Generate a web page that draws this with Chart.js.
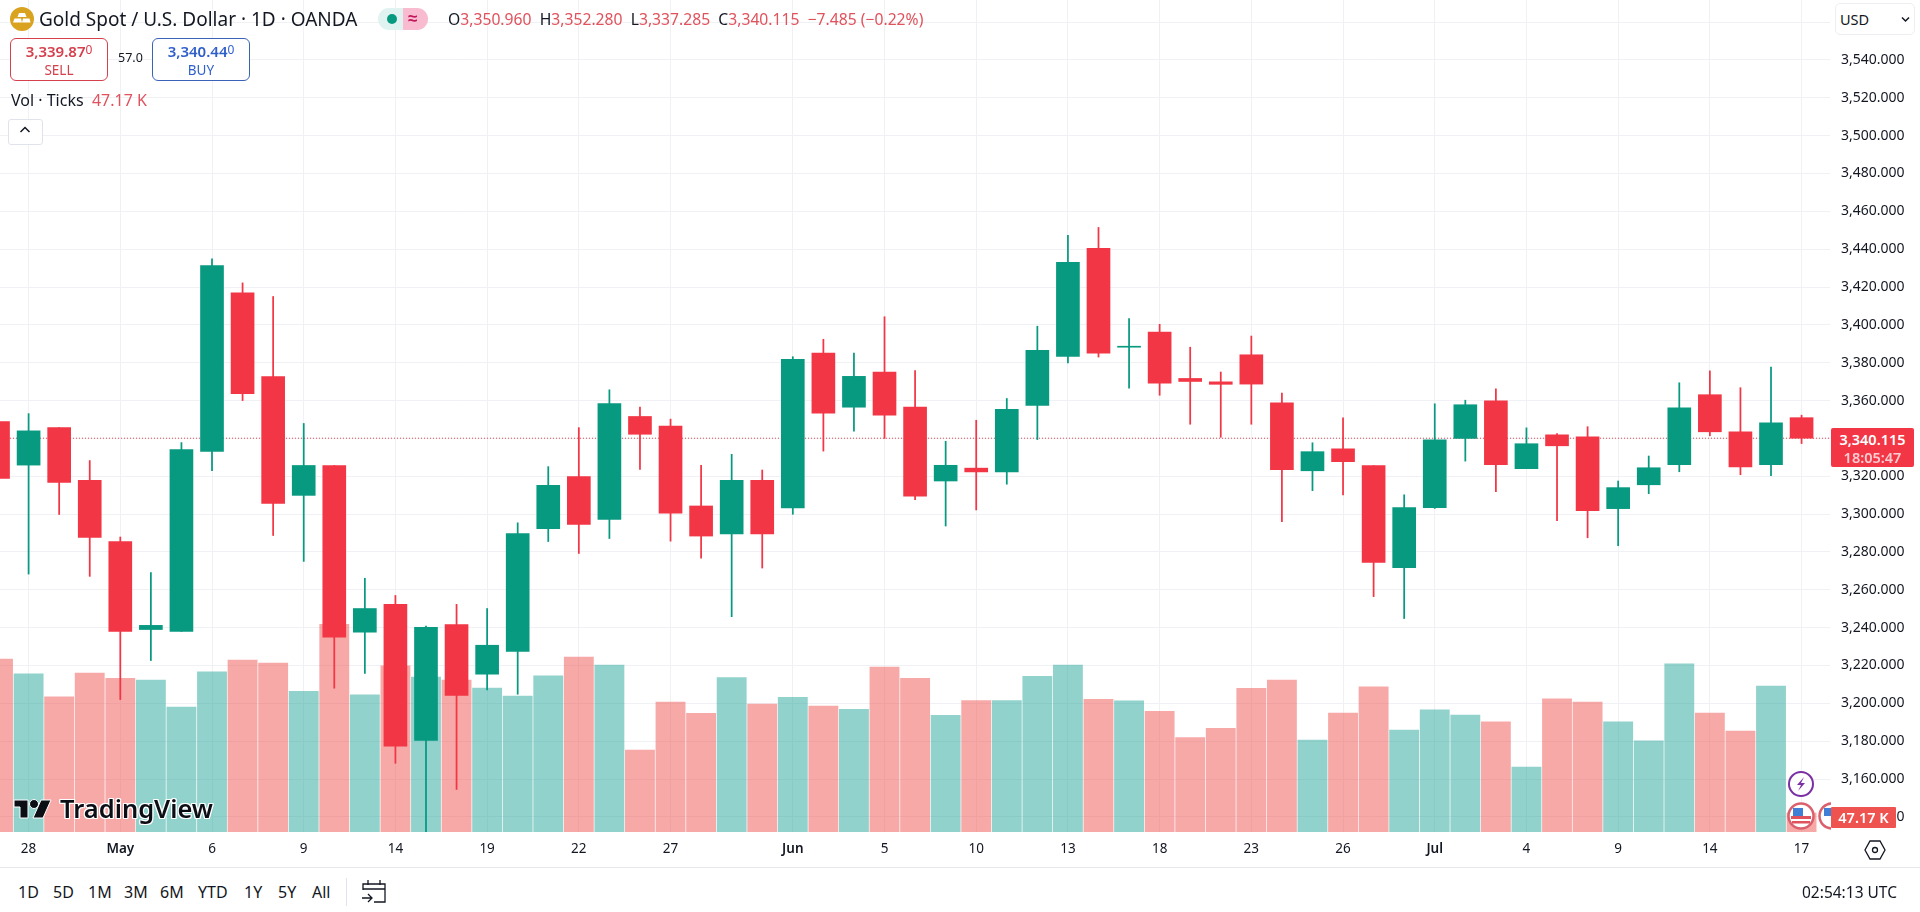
<!DOCTYPE html>
<html>
<head>
<meta charset="utf-8">
<title>Gold Spot / U.S. Dollar</title>
<script src="https://cdn.jsdelivr.net/npm/chart.js@4"></script>
<style>
  html, body { margin: 0; padding: 0; background: #fff; width: 1920px; height: 912px; overflow: hidden; }
  body { position: relative; font-family: "Noto Sans", sans-serif; color: #131722; }
  canvas { position: absolute; left: 0; top: 0; }
  .abs { position: absolute; white-space: nowrap; }
  .red { color: #e0525c; }
  .quote { position: absolute; top: 38px; height: 41px; width: 96px; border-radius: 6px; border: 1px solid; background: #fff; text-align: center; box-sizing: content-box; }
  .quote b { display: block; font-size: 15px; font-weight: 600; line-height: 20px; margin-top: 1px; }
  .quote b small { font-size: 12px; font-weight: 400; vertical-align: 3px; }
  .quote span { display: block; font-size: 13.5px; line-height: 18px; }
  .range { position: absolute; top: 882px; font-size: 16px; line-height: 20px; }
  .tag { position: absolute; left: 1831px; background: #f23645; color: #fff; font-weight: 600; font-size: 14.5px; border-radius: 1px; }
</style>
</head>
<body>
<canvas id="chart" width="1920" height="867"></canvas>

<!-- header -->
<svg class="abs" style="left:10px;top:7px" width="24" height="24" viewBox="0 0 24 24">
  <circle cx="12" cy="12" r="12" fill="#d9a320"/>
  <path d="M9 6h6l1.500 4h-9zM4.500 11.500h6.500l1 4h-9zM13 11.500h6.500l1 4h-8.500z" fill="#fff"/>
</svg>
<div class="abs" style="left:39px;top:6px;font-size:19px;line-height:26px">Gold Spot / U.S. Dollar · 1D · OANDA</div>
<div class="abs" style="left:378px;top:8px;width:25px;height:22px;background:#e0f3f0;border-radius:11px 0 0 11px"></div>
<div class="abs" style="left:403px;top:8px;width:25px;height:22px;background:#f8bbd0;border-radius:0 11px 11px 0"></div>
<div class="abs" style="left:387px;top:14px;width:10px;height:10px;background:#089981;border-radius:5px"></div>
<div class="abs" style="left:408px;top:7px;font-size:17px;line-height:22px;color:#c2185b;font-weight:600">≈</div>
<div class="abs" style="left:448px;top:8px;font-size:15.700px;line-height:22px">O<span class="red">3,350.960</span> &nbsp;H<span class="red">3,352.280</span> &nbsp;L<span class="red">3,337.285</span> &nbsp;C<span class="red">3,340.115</span> &nbsp;<span class="red">−7.485 (−0.22%)</span></div>

<div class="quote" style="left:10px;border-color:#d5404d;color:#d5404d"><b>3,339.87<small>0</small></b><span>SELL</span></div>
<div class="abs" style="left:118px;top:49px;font-size:12.500px;line-height:18px">57.0</div>
<div class="quote" style="left:152px;border-color:#3a63b8;color:#2f5fc9"><b>3,340.44<small>0</small></b><span>BUY</span></div>

<div class="abs" style="left:11px;top:89px;font-size:16px;line-height:22px">Vol · Ticks &nbsp;<span class="red">47.17 K</span></div>
<div class="abs" style="left:8px;top:119px;width:33px;height:24px;border:1px solid #e0e3eb;border-radius:3px;background:#fff"></div>
<svg class="abs" style="left:19px;top:125px" width="12" height="10" viewBox="0 0 12 10"><path d="M1.500 7l4.500-4.500 4.500 4.500" fill="none" stroke="#131722" stroke-width="1.500"/></svg>

<!-- currency box -->
<div class="abs" style="left:1835px;top:3px;width:78px;height:30px;border:1px solid #eceef2;border-radius:5px;background:#fff"></div>
<div class="abs" style="left:1840px;top:9px;font-size:14.500px;line-height:20px">USD</div>
<svg class="abs" style="left:1901px;top:16px" width="9" height="7" viewBox="0 0 9 7"><path d="M1 1.500l3.500 3.500 3.500-3.500" fill="none" stroke="#131722" stroke-width="1.500"/></svg>

<!-- TradingView mark -->
<svg class="abs" style="left:12px;top:798px" width="42" height="24" viewBox="0 0 42 24">
  <path d="M2 2h14v18H8V9H2z" fill="#0c0e15" stroke="#fff" stroke-width="1"/>
  <circle cx="22" cy="6" r="4.500" fill="#0c0e15" stroke="#fff" stroke-width="1"/>
  <path d="M29 2h10l-8 18H21z" fill="#0c0e15" stroke="#fff" stroke-width="1"/>
</svg>
<div class="abs" style="left:60px;top:792px;font-size:25.500px;line-height:32px;font-weight:600;color:#0c0e15;text-shadow:-1px 0 #fff,1px 0 #fff,0 -1px #fff,0 1px #fff,-1px -1px #fff,1px 1px #fff,1px -1px #fff,-1px 1px #fff">TradingView</div>

<!-- event badges -->
<svg class="abs" style="left:1787px;top:770px" width="28" height="28" viewBox="0 0 28 28">
  <circle cx="14" cy="14" r="12" fill="#fff" stroke="#7b2fa5" stroke-width="2"/>
  <path d="M17 7l-7 8h4l-3 6 7-8h-4z" fill="#7b2fa5"/>
</svg>
<svg class="abs" style="left:1787px;top:802px" width="28" height="28" viewBox="0 0 28 28">
  <circle cx="14" cy="14" r="12.500" fill="#fff" stroke="#d9606c" stroke-width="2.500"/>
  <rect x="4" y="14" width="20" height="3" fill="#e0525c"/><rect x="5" y="19" width="18" height="2.500" fill="#e0525c"/>
  <rect x="6" y="6" width="10" height="8" fill="#3f7fd6"/>
</svg>
<svg class="abs" style="left:1818px;top:802px" width="13" height="28" viewBox="0 0 13 28">
  <circle cx="14" cy="14" r="12.500" fill="#fff" stroke="#d9606c" stroke-width="2.500"/>
  <rect x="6" y="6" width="7" height="8" fill="#3f7fd6"/>
</svg>

<!-- price tags -->
<div class="tag" style="top:428px;height:39px;width:83px;line-height:18px;text-align:center;border-radius:2px"><div style="margin-top:2px">3,340.115</div><div style="opacity:.75">18:05:47</div></div>
<div class="tag" style="top:807px;height:21px;width:65px;line-height:21px;text-align:center;background:#ef5350">47.17 K</div>

<!-- bottom -->
<svg class="abs" style="left:1863px;top:839px" width="24" height="22" viewBox="0 0 24 22">
  <path d="M7 2h10l5 9-5 9H7l-5-9z" fill="none" stroke="#131722" stroke-width="1.300"/>
  <circle cx="12" cy="11" r="2.500" fill="none" stroke="#131722" stroke-width="1.300"/>
</svg>
<div class="abs" style="left:0;top:867px;width:1920px;height:1px;background:#e6e8ee"></div>
<div class="range" style="left:18px">1D</div>
<div class="range" style="left:53px">5D</div>
<div class="range" style="left:88px">1M</div>
<div class="range" style="left:124px">3M</div>
<div class="range" style="left:160px">6M</div>
<div class="range" style="left:198px">YTD</div>
<div class="range" style="left:244px">1Y</div>
<div class="range" style="left:278px">5Y</div>
<div class="range" style="left:312px">All</div>
<div class="abs" style="left:346px;top:878px;width:1px;height:28px;background:#e0e3eb"></div>
<svg class="abs" style="left:361px;top:878px" width="26" height="28" viewBox="0 0 26 28" fill="none" stroke="#131722" stroke-width="1.300">
  <path d="M2 12V6h22v18H13M2 11h22M7 2v5M19 2v5M1 20h9M7 16l4 4-4 4"/>
</svg>
<div class="abs" style="left:1802px;top:881px;font-size:15.500px;line-height:22px">02:54:13 UTC</div>

<script>
// candles, oldest first
const opens = [3348.9, 3325.9, 3345.7, 3317.8, 3285.5, 3239, 3238, 3333.1, 3417, 3372.7, 3309.9, 3325.7, 3237.6, 3252.3, 3180.4, 3241.6, 3215.4, 3227.5, 3292.3, 3319.8, 3297.2, 3351.6, 3346.5, 3304.3, 3289.5, 3317.9, 3303.3, 3385.1, 3356.5, 3375.1, 3356.5, 3317.5, 3324.3, 3322.3, 3357.5, 3383.4, 3440.4, 3388.2, 3396.2, 3371.7, 3369.9, 3384.2, 3358.8, 3322.9, 3334.5, 3325.6, 3271.7, 3303.4, 3340, 3359.9, 3324, 3341.9, 3340.9, 3302.9, 3315.5, 3326.1, 3363.1, 3343.5, 3326.1, 3350.96];
const highs = [3349, 3353.1, 3345.7, 3328.3, 3287.9, 3269.1, 3337.8, 3434.9, 3422.2, 3415, 3347.9, 3325.7, 3266.1, 3257, 3240.8, 3252.3, 3250.1, 3295.4, 3325.1, 3345.7, 3365.7, 3356.6, 3350.2, 3325.8, 3331.6, 3323.3, 3383.2, 3392.4, 3385.1, 3404.3, 3375.9, 3338.5, 3349.6, 3361.1, 3399.3, 3447.3, 3451.5, 3403.3, 3400.3, 3388.2, 3375.1, 3394.1, 3363.9, 3337.7, 3350.9, 3325.6, 3310.2, 3358.3, 3360.2, 3366.2, 3345.6, 3342.5, 3346.2, 3317.5, 3330.7, 3369.4, 3375.7, 3366.8, 3377.7, 3352.28];
const lows = [3318, 3268.3, 3299.8, 3267.1, 3202, 3222.6, 3238, 3323, 3360, 3288.7, 3275, 3208, 3215.8, 3168.3, 3130, 3154.5, 3207.1, 3204.8, 3285.5, 3279.2, 3287.1, 3323.6, 3285.7, 3276.7, 3245.8, 3271.5, 3299.9, 3333.3, 3343.8, 3340, 3307.6, 3293.7, 3302.2, 3315.8, 3339.4, 3379.9, 3383, 3366.5, 3362.8, 3347.5, 3340.6, 3347.5, 3296, 3312.4, 3310.2, 3256.4, 3244.8, 3303, 3328, 3311.8, 3324, 3296.5, 3287.5, 3283.3, 3310.8, 3322.4, 3341.4, 3320.8, 3320.3, 3337.285];
const closes = [3318.8, 3344, 3316.8, 3287.7, 3238, 3241.2, 3334.1, 3431.3, 3363.6, 3305.7, 3325.7, 3235, 3250.1, 3177.4, 3240.2, 3204.2, 3230.7, 3289.7, 3315.2, 3294.5, 3358.4, 3342.2, 3300.5, 3288.4, 3317.9, 3289.5, 3381.8, 3353.4, 3372.8, 3352.3, 3309.5, 3325.8, 3322.3, 3355.4, 3386.6, 3433.1, 3385.1, 3388.6, 3369.2, 3370.1, 3368.6, 3368.7, 3323.5, 3333, 3327.7, 3274.5, 3303.4, 3339.3, 3357.8, 3326.1, 3337.2, 3336.1, 3301.8, 3314, 3324.5, 3356.2, 3343.5, 3325, 3348.3, 3340.115];
// tick volume in thousands
const volumes = [429, 392, 335, 394, 381, 377, 310, 397, 426, 419, 349, 515, 340, 412, 384, 377, 357, 337, 387, 434, 414, 203, 322, 294, 383, 317, 334, 312, 304, 409, 381, 289, 326, 326, 386, 414, 329, 325, 299, 234, 257, 356, 377, 228, 295, 360, 253, 303, 290, 273, 161, 330, 322, 273, 226, 417, 295, 250, 362, 47.17];

const priceTicks = [3140, 3160, 3180, 3200, 3220, 3240, 3260, 3280, 3300, 3320, 3340, 3360, 3380, 3400, 3420, 3440, 3460, 3480, 3500, 3520, 3540, 3560];
const timeTickBars = [1, 4, 7, 10, 13, 16, 19, 22, 26, 29, 32, 35, 38, 41, 44, 47, 50, 53, 56, 59];
const timeTickLabels = ["28", "May", "6", "9", "14", "19", "22", "27", "Jun", "5", "10", "13", "18", "23", "26", "Jul", "4", "9", "14", "17"];
const lastPrice = 3340.115;

const GREEN = "#089981";
const RED = "#f23645";
const GRID = "#f0f1f5";
const FONT = '"Noto Sans", sans-serif';

const isUp = (i) => closes[i] >= opens[i];
const candleColors = opens.map((_, i) => (isUp(i) ? GREEN : RED));
const volumeColors = opens.map((_, i) =>
  isUp(i) ? "rgba(38,166,154,0.5)" : "rgba(239,83,80,0.5)",
);

// drop the room Chart.js keeps for half a tick label at the axis ends
function noEndPadding(scale) {
  scale.paddingTop = 0;
  scale.paddingBottom = 0;
  scale.paddingLeft = 0;
  scale.paddingRight = 0;
}

new Chart(document.getElementById("chart"), {
  type: "bar",
  data: {
    datasets: [
      {
        // bodies
        data: opens.map((o, i) => ({ x: i, y: [o, closes[i]] })),
        backgroundColor: candleColors,
        barThickness: 23,
        minBarLength: 1,
        grouped: false,
        yAxisID: "y",
        order: 0,
      },
      {
        // wicks
        data: lows.map((l, i) => ({ x: i, y: [l, highs[i]] })),
        backgroundColor: candleColors,
        barThickness: 1.1,
        grouped: false,
        yAxisID: "y",
        order: 1,
      },
      {
        // last price line
        type: "line",
        data: [
          { x: 0, y: lastPrice },
          { x: 60, y: lastPrice },
        ],
        borderColor: "#d8434f",
        borderWidth: 1,
        borderDash: [1, 2],
        pointRadius: 0,
        yAxisID: "y",
        order: 2,
      },
      {
        // volume
        data: volumes.map((v, i) => ({ x: i, y: v })),
        backgroundColor: volumeColors,
        barThickness: 29.2,
        grouped: false,
        yAxisID: "vol",
        order: 3,
      },
    ],
  },
  options: {
    responsive: false,
    animation: false,
    devicePixelRatio: 1,
    layout: { padding: 0 },
    plugins: { legend: { display: false }, tooltip: { enabled: false } },
    scales: {
      x: {
        type: "linear",
        offset: false,
        min: 0.0645,
        max: 59.93,
        grid: { color: GRID, offset: false, drawTicks: false },
        border: { display: false },
        afterBuildTicks: (scale) => {
          scale.ticks = timeTickBars.map((v) => ({ value: v }));
        },
        afterFit: (scale) => {
          scale.height = 35;
          noEndPadding(scale);
        },
        ticks: {
          autoSkip: false,
          maxRotation: 0,
          padding: 9,
          color: "#131722",
          font: (ctx) => ({
            family: FONT,
            size: 13.5,
            weight: /[A-Za-z]/.test(timeTickLabels[ctx.index] || "") ? "600" : "400",
          }),
          callback: (value, index) => timeTickLabels[index],
        },
      },
      y: {
        position: "right",
        min: 3132,
        max: 3571.7,
        grid: { color: GRID, drawTicks: false },
        border: { display: false },
        afterBuildTicks: (scale) => {
          scale.ticks = priceTicks.map((v) => ({ value: v }));
        },
        afterFit: (scale) => {
          scale.width = 90;
          noEndPadding(scale);
        },
        ticks: {
          autoSkip: false,
          padding: 11,
          color: "#131722",
          font: { family: FONT, size: 14 },
          callback: (value) =>
            value.toLocaleString("en-US", {
              minimumFractionDigits: 3,
              maximumFractionDigits: 3,
            }),
        },
      },
      vol: {
        display: false,
        position: "left",
        min: 0,
        max: 2063,
      },
    },
  },
});
</script>
</body>
</html>
